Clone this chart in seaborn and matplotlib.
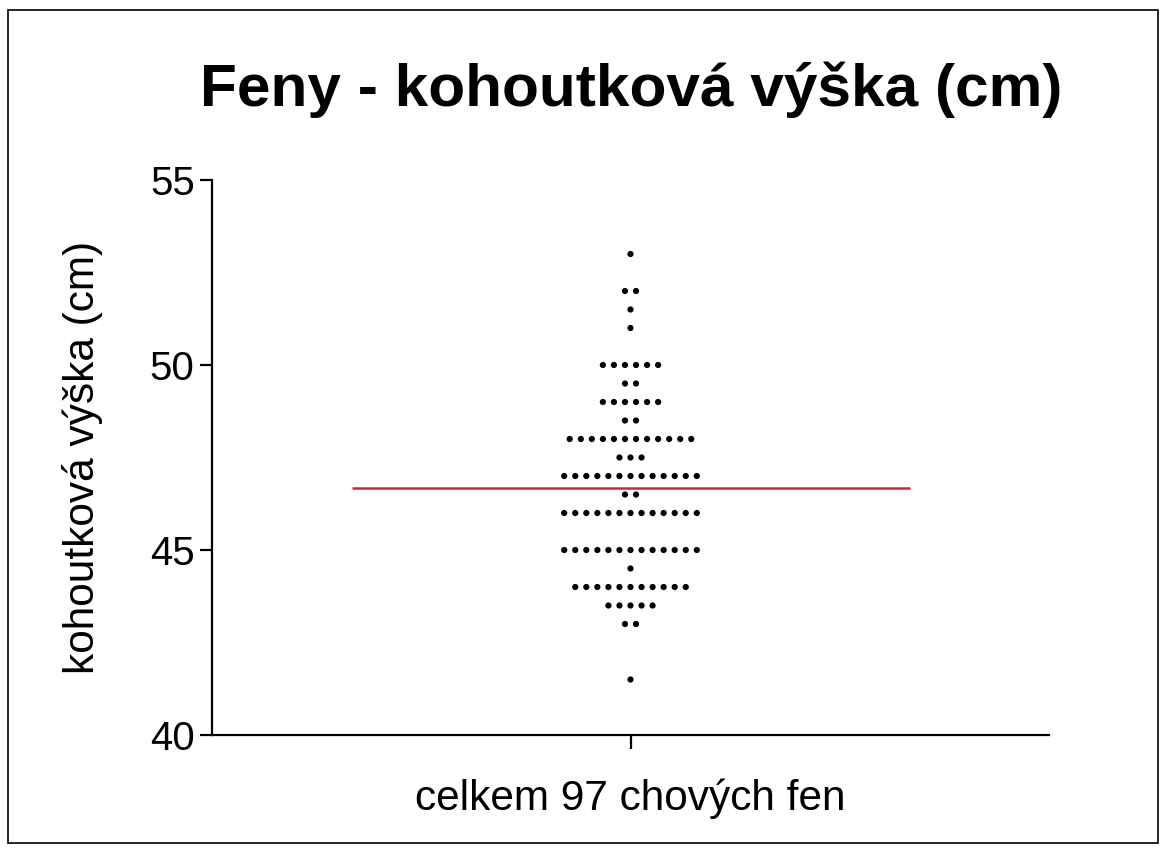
import numpy as np
import pandas as pd
import matplotlib
matplotlib.use("Agg")
import matplotlib.pyplot as plt
import seaborn as sns

# Data: height value (cm) and number of dogs at each value
heights = [53, 52, 51.5, 51, 50, 49.5, 49, 48.5, 48, 47.5, 47, 46.5, 46, 45, 44.5, 44, 43.5, 43, 41.5]
counts = [1, 2, 1, 1, 6, 2, 6, 2, 12, 3, 13, 2, 13, 13, 1, 11, 5, 2, 1]
category = "celkem 97 chových fen"
title = "Feny - kohoutková výška (cm)"
ylabel = "kohoutková výška (cm)"
yticks = [40, 45, 50, 55]

# Build point table: rows of dots centered on the category position
step = 0.0396
xs, ys = [], []
for h, n in zip(heights, counts):
    for i in range(n):
        xs.append((i - (n - 1) / 2) * step)
        ys.append(h)
df = pd.DataFrame({"x": xs, "y": ys})
mean_val = df["y"].mean()

sns.set_style("white")
plt.rcParams["font.family"] = ["Liberation Sans", "DejaVu Sans"]
plt.rcParams["text.color"] = "black"
plt.rcParams["axes.labelcolor"] = "black"
plt.rcParams["xtick.color"] = "black"
plt.rcParams["ytick.color"] = "black"

fig = plt.figure(figsize=(11.64, 8.48), dpi=100)
ax = fig.add_axes([212 / 1164, 1 - 735 / 848, (1049 - 212) / 1164, (735 - 180) / 848])

sns.scatterplot(data=df, x="x", y="y", ax=ax, color="black", s=20,
                edgecolor="none", linewidth=0, zorder=3)
ax.plot([-1, 1], [mean_val, mean_val], color="#d9242a", lw=1.8, zorder=4,
        solid_capstyle="butt")

ax.set_xlim(-1.5, 1.5)
ax.set_ylim(40, 55)
ax.set_yticks(yticks)
ax.set_xticks([0])
ax.set_xticklabels([""])
ax.set_xlabel(category, fontsize=30.5, labelpad=18)
ax.set_ylabel(ylabel, fontsize=30.5, labelpad=34)

for s in ["top", "right"]:
    ax.spines[s].set_visible(False)
for s in ["left", "bottom"]:
    ax.spines[s].set_linewidth(1.6)
    ax.spines[s].set_color("black")
ax.tick_params(axis="y", direction="out", length=9, width=1.6, pad=3.5,
               labelsize=29, left=True, colors="black")
ax.tick_params(axis="x", direction="out", length=10, width=1.6, bottom=True, colors="black")

fig.text(631 / 1164, 1 - 90 / 848, title, ha="center", va="center",
         fontsize=43.5, fontweight="bold", color="black")

# figure border
fig.patches.append(plt.Rectangle((8 / 1164, 1 - 843 / 848), (1158 - 8) / 1164, (843 - 10) / 848,
                                 transform=fig.transFigure, fill=False,
                                 edgecolor="black", linewidth=1.2))

fig.savefig("out.png", dpi=100)
